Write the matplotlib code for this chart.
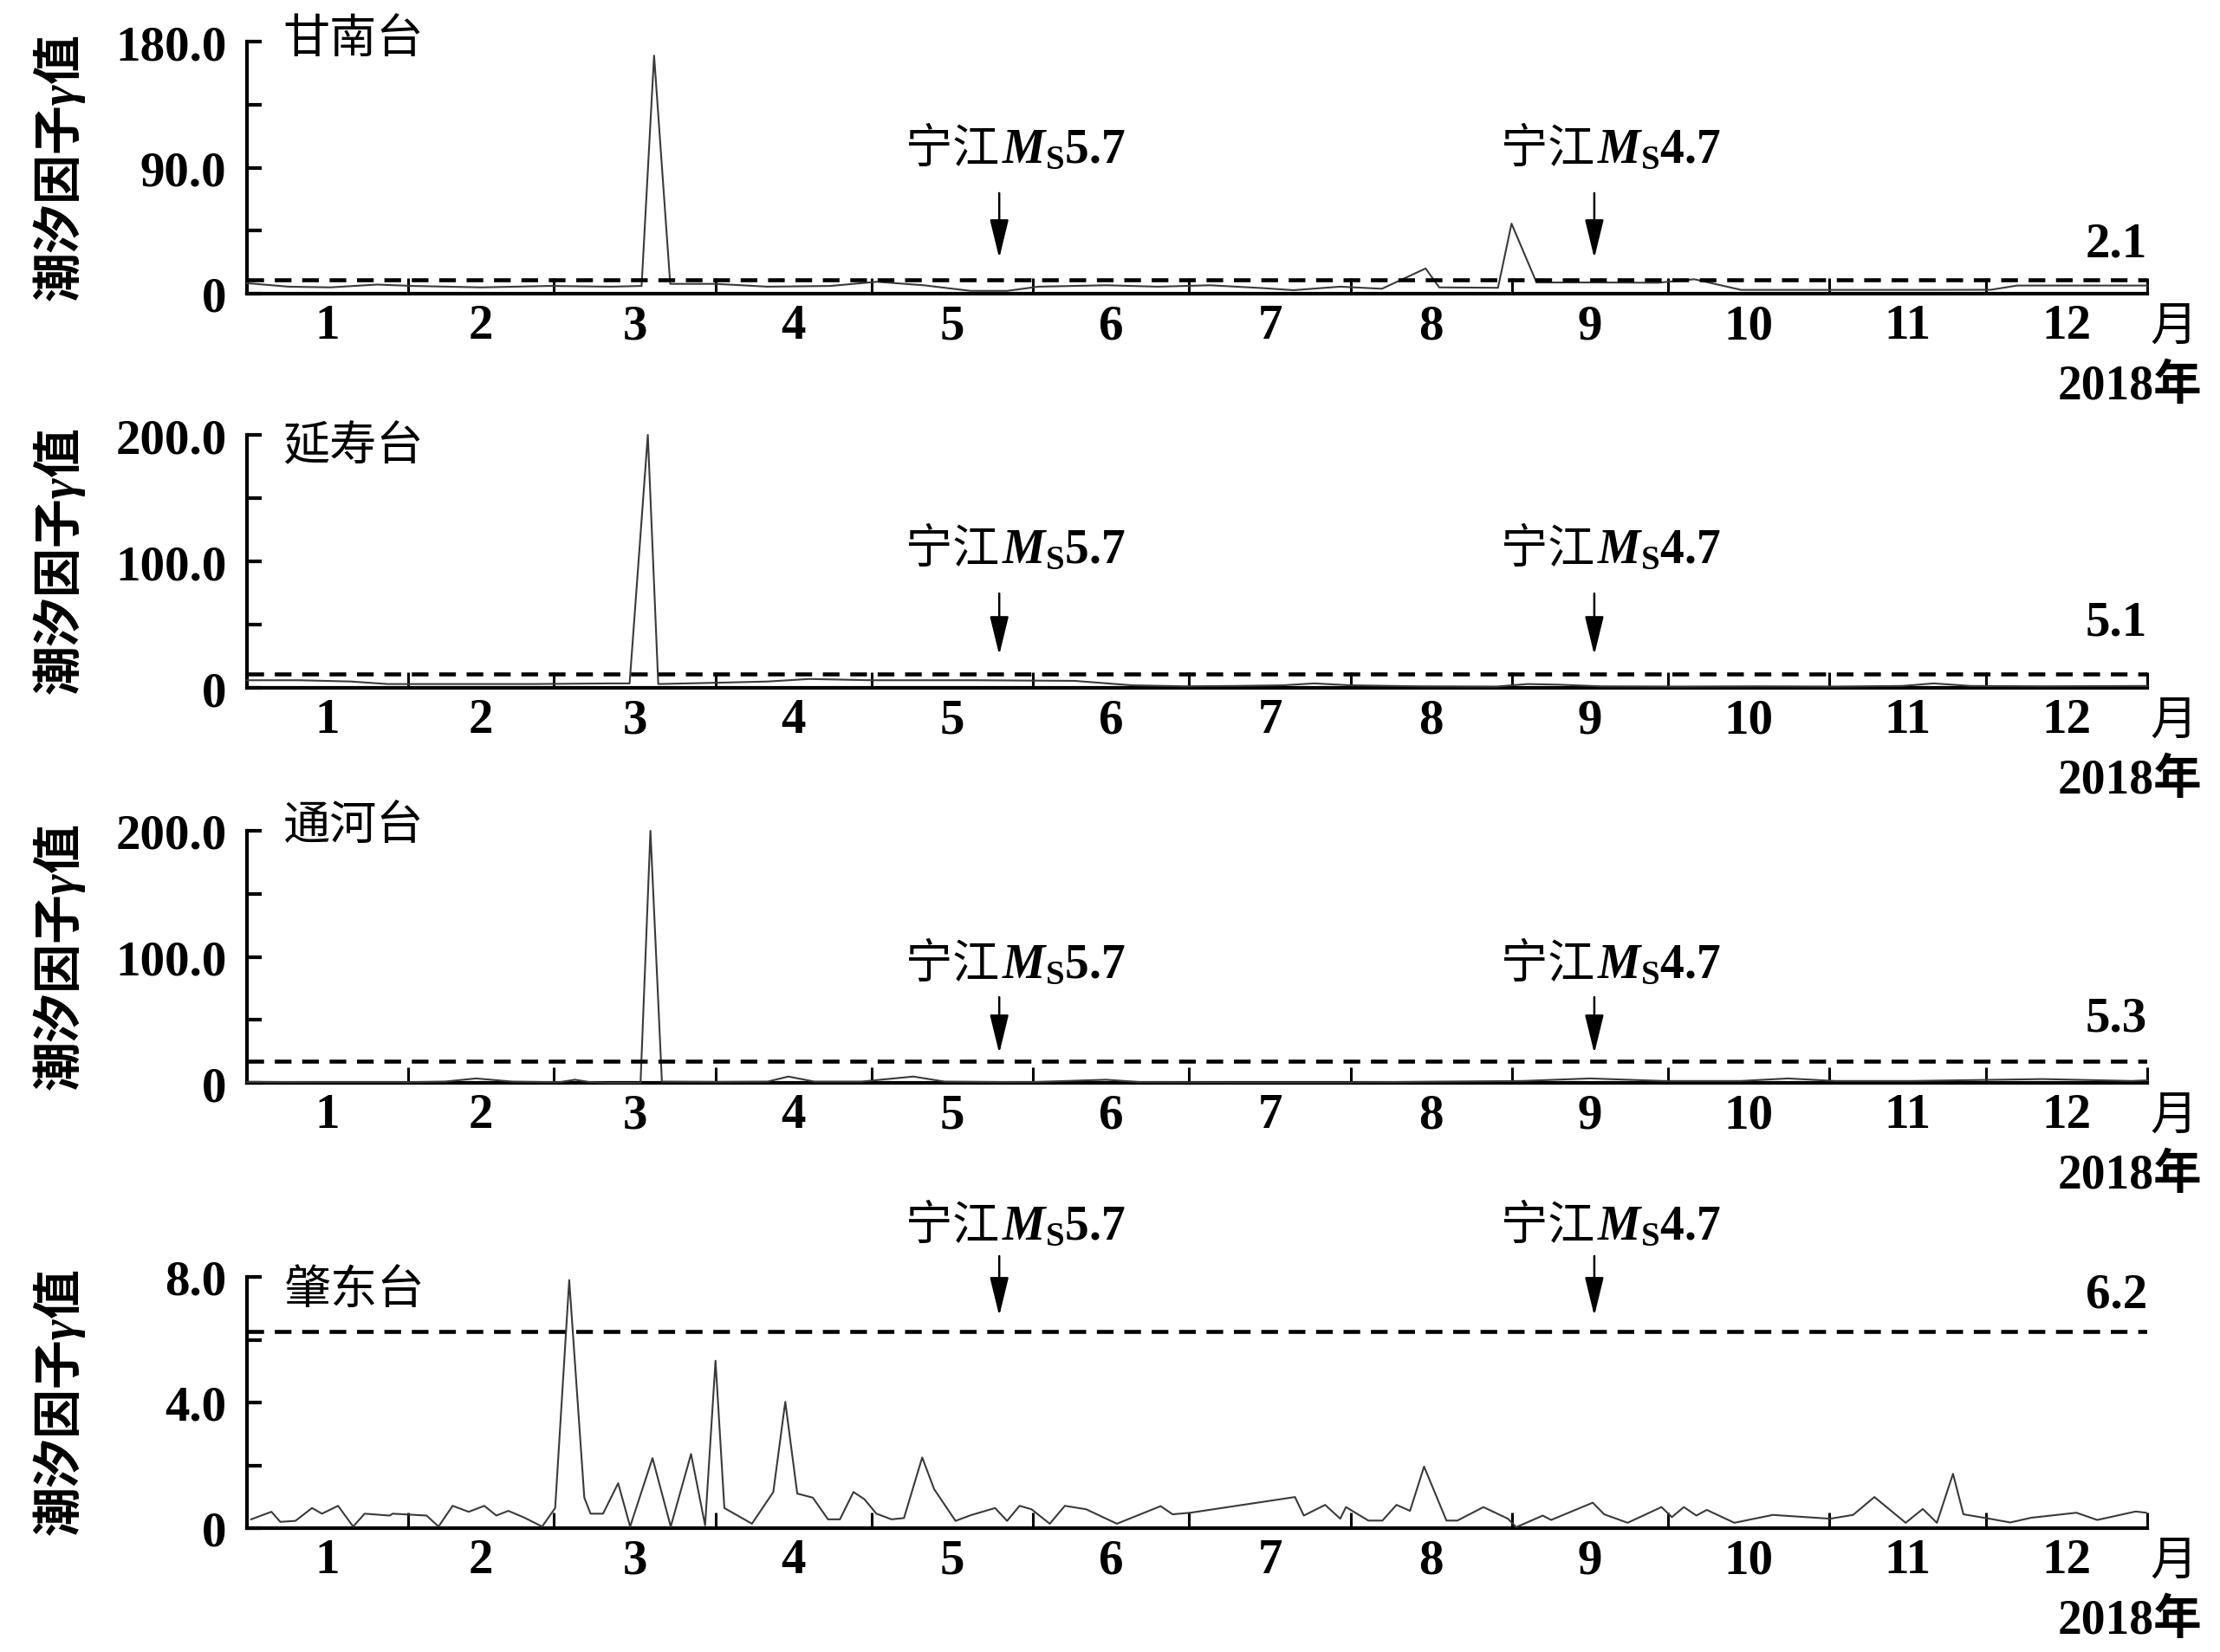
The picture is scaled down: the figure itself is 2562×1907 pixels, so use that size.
import matplotlib
matplotlib.use('Agg')
import matplotlib.pyplot as plt

plt.rcParams['font.family'] = ['Liberation Serif', 'Noto Sans CJK SC']
plt.rcParams['font.weight'] = 'bold'
plt.rcParams['mathtext.fontset'] = 'custom'
plt.rcParams['mathtext.it'] = 'Liberation Serif:italic'
plt.rcParams['mathtext.rm'] = 'Liberation Serif'
plt.rcParams['mathtext.bf'] = 'Liberation Serif:bold'

# ---------------- data ----------------
month_labels = ['1', '2', '3', '4', '5', '6', '7', '8', '9', '10', '11', '12']
month_edges = [0, 31, 59, 90, 120, 151, 181, 212, 243, 273, 304, 334, 365]

stations = ['甘南台', '延寿台', '通河台', '肇东台']

gannan_days = [0, 8, 16, 25, 32, 45, 58, 70, 75.8, 78.2, 81.3, 90, 100, 112, 121, 130, 139, 146, 152,
               165, 175, 185, 195, 201, 210, 218, 226.4, 229, 240.3, 242.9, 247.7, 260, 271, 278, 287,
               296, 310, 325, 335, 340, 352, 365]
gannan_vals = [7.5, 5, 4.5, 6.5, 5.5, 4.5, 5.5, 5, 5.5, 170, 7, 7, 5, 5.5, 8.5, 6, 2, 2, 5,
               6, 5, 6, 4, 2.5, 5, 3.5, 18, 4.5, 4.2, 50, 8, 8, 7.8, 10.3, 2.7,
               2.7, 2.7, 2.7, 2.8, 5.8, 5.8, 5.8]

yanshou_days = [0, 10, 20, 27, 40, 55, 70, 73.5, 77, 79, 90, 100, 108, 120, 140, 159, 170, 180,
                190, 199, 205, 212, 225, 240, 246, 252, 260, 275, 290, 305, 318, 324, 331, 345, 365]
yanshou_vals = [6, 6, 5, 3, 3, 3, 3.5, 3.5, 200, 3, 4, 5, 7, 6, 6, 5.5, 2, 1.2,
                1.5, 2, 3.5, 2, 1.2, 1, 3, 2.5, 1.2, 1, 1.2, 1, 1.5, 3.5, 1.5, 1.2, 1.5]

tonghe_days = [0, 15, 30, 38, 44, 51, 60, 63, 66, 70, 75.6, 77.5, 79.7, 90, 100, 104, 109, 118,
               128, 134, 150, 165, 172, 190, 210, 230, 245, 258, 272, 287, 296, 305, 320, 345, 362, 365]
tonghe_vals = [0.8, 0.5, 0.5, 1, 3.5, 1, 0.5, 2.5, 0.5, 0, 0, 200, 1, 0.8, 1, 5, 1, 1,
               5, 1, 0.5, 2.5, 0.5, 0.3, 0.3, 1, 1.5, 3.5, 1.5, 1.5, 3.5, 1.5, 1.5, 3, 1.5, 2]

zhaodong_days = [0.8, 4.7, 6.4, 9.3, 12.5, 14.4, 17.5, 20.4, 22.6, 27.4, 28.0, 34.5, 36.8, 39.5, 42.6,
                 45.6, 47.9, 50.2, 53.2, 56.7, 59.2, 61.9, 64.8, 66.0, 68.4, 71.3, 73.6, 77.9, 81.4,
                 85.3, 88.0, 90.0, 91.7, 97.0, 101.1, 103.4, 105.7, 108.7, 111.6, 113.9, 116.5, 118.6,
                 120.9, 123.8, 126.2, 129.7, 132.0, 136.1, 139.0, 143.7, 146.0, 148.4, 150.7, 154.2,
                 157.1, 161.2, 167.1, 175.5, 177.8, 181.2, 201.3, 203.0, 207.1, 210.0, 211.1, 215.4,
                 218.1, 220.8, 223.4, 226.1, 230.4, 232.5, 237.5, 242.2, 243.8, 248.9, 250.5, 258.5,
                 260.7, 265.2, 271.7, 273.7, 276.0, 278.4, 280.4, 285.7, 293.1, 304.1, 308.5, 312.6,
                 318.6, 321.9, 324.6, 327.7, 329.7, 334.7, 338.7, 342.7, 351.4, 355.4, 362.8, 364.8]
zhaodong_vals = [0.28, 0.52, 0.20, 0.23, 0.64, 0.46, 0.71, 0.05, 0.46, 0.40, 0.46, 0.40, 0.05, 0.71, 0.52,
                 0.71, 0.40, 0.55, 0.34, 0.05, 0.64, 7.9, 0.97, 0.46, 0.46, 1.43, 0.05, 2.23, 0.05,
                 2.36, 0.09, 5.33, 0.64, 0.14, 1.15, 4.02, 1.10, 0.97, 0.28, 0.28, 1.15, 0.92,
                 0.46, 0.28, 0.32, 2.25, 1.24, 0.23, 0.41, 0.64, 0.23, 0.71, 0.60, 0.14,
                 0.71, 0.60, 0.14, 0.70, 0.44, 0.49, 0.99, 0.40, 0.74, 0.30, 0.67, 0.24,
                 0.24, 0.74, 0.55, 1.96, 0.24, 0.24, 0.67, 0.30, 0.03, 0.40, 0.26, 0.81,
                 0.44, 0.17, 0.67, 0.35, 0.67, 0.40, 0.58, 0.17, 0.42, 0.30, 0.42, 0.99,
                 0.17, 0.61, 0.17, 1.73, 0.44, 0.30, 0.18, 0.33, 0.49, 0.26, 0.53, 0.49]

series_days = [gannan_days, yanshou_days, tonghe_days, zhaodong_days]
series_vals = [gannan_vals, yanshou_vals, tonghe_vals, zhaodong_vals]

y_max = [180, 200, 200, 8]
y_ticks = [[0, 45, 90, 135, 180], [0, 50, 100, 150, 200], [0, 50, 100, 150, 200], [0, 2, 4, 6, 8]]
y_ticklabels = [['0', '', '90.0', '', '180.0'], ['0', '', '100.0', '', '200.0'],
                ['0', '', '100.0', '', '200.0'], ['0', '', '4.0', '', '8.0']]

threshold_levels = [10, 11, 17, 6.25]
threshold_labels = ['2.1', '5.1', '5.3', '6.2']

quake_days = [144.5, 258.8]
quake_mags = ['5.7', '4.7']

# ---------------- layout ----------------
W, H = 2562, 1908
fig = plt.figure(figsize=(W / 100, H / 100), dpi=100)
left_px, right_px = 285, 2478
panel_px = [(49, 340), (503, 795), (960, 1251), (1475, 1765)]

# per panel: (station name y, quake text y, arrow top y, arrow tip y, threshold label y) in axes fraction
panel_text = [
    (1.01, 0.577, 0.399, 0.141, 0.196),
    (0.955, 0.551, 0.373, 0.130, 0.26),
    (1.024, 0.474, 0.340, 0.117, 0.256),
    (0.948, 1.207, 1.083, 0.845, 0.93),
]

cjk = ['Noto Sans CJK SC', 'DejaVu Sans']
FS = 41      # numbers
FS_CJK = 39  # Chinese text

mids = [(month_edges[i] + month_edges[i + 1]) / 2 for i in range(12)]

for i in range(4):
    top, bot = panel_px[i]
    ax = fig.add_axes([left_px / W, 1 - bot / H, (right_px - left_px) / W, (bot - top) / H])
    ax.plot(series_days[i], series_vals[i], color='#3a3a3a', lw=1.5, clip_on=False, zorder=3)
    ax.axhline(threshold_levels[i], color='black', lw=3.3, linestyle=(0, (4.2, 2.7)), zorder=4)
    ax.set_xlim(0, 365)
    ax.set_ylim(0, y_max[i])
    for s in ['top', 'right']:
        ax.spines[s].set_visible(False)
    for s in ['left', 'bottom']:
        ax.spines[s].set_linewidth(3.0)
    ax.set_xticks(month_edges[1:])
    ax.set_xticklabels([])
    ax.set_xticks(mids, minor=True)
    ax.set_xticklabels(month_labels, minor=True)
    ax.tick_params(axis='x', which='major', direction='in', length=13, width=2.2, labelbottom=False)
    ax.tick_params(axis='x', which='minor', length=0, pad=8, labelsize=FS)
    ax.set_yticks(y_ticks[i])
    ax.set_yticklabels(y_ticklabels[i])
    ax.tick_params(axis='y', direction='in', length=12, width=3, pad=17, labelsize=FS)
    ax.set_ylabel('潮汐因子$\\mathit{\\gamma}$值', family='Noto Sans CJK SC', fontsize=41, weight='bold')
    ax.yaxis.set_label_coords(-0.084, 0.5)

    name_y, qt_y, ar_top, ar_tip, thr_y = panel_text[i]
    ax.text(0.019, name_y, stations[i], transform=ax.transAxes, va='center', ha='left',
            family=cjk, fontsize=FS_CJK, weight='normal')
    ax.text(1.0, thr_y, threshold_labels[i], transform=ax.transAxes, ha='right', va='center',
            fontsize=FS, weight='bold')
    for d, m in zip(quake_days, quake_mags):
        ax.annotate('', xy=(d, ar_tip), xytext=(d, ar_top), xycoords=('data', 'axes fraction'),
                    textcoords=('data', 'axes fraction'), annotation_clip=False,
                    arrowprops=dict(arrowstyle='-|>,head_length=1.15,head_width=0.28', lw=1.8,
                                    color='black', mutation_scale=24, shrinkA=0, shrinkB=0))
        base_y = qt_y - 16 / (bot - top)
        ax.text(d, base_y, '宁江', transform=ax.get_xaxis_transform(), ha='right', va='baseline',
                family=cjk, fontsize=FS_CJK, weight='normal', clip_on=False)
        ax.text(d + 0.5, base_y, '$M_\\mathrm{S}$' + m, transform=ax.get_xaxis_transform(),
                ha='left', va='baseline', family='Liberation Serif', fontsize=40, weight='bold',
                clip_on=False)

    fig.text(2508 / W, 1 - (bot + 38) / H, '月', ha='center', va='center', family=cjk,
             fontsize=FS_CJK, weight='normal')
    fig.text(2541 / W, 1 - (bot + 107) / H, '2018年', ha='right', va='center',
             fontsize=40, weight='bold')

fig.savefig('out.png', dpi=100)
